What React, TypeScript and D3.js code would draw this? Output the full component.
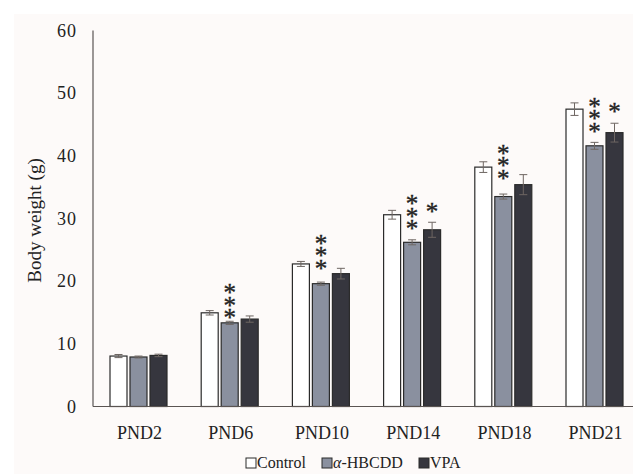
import React from "react";
import * as d3 from "d3";

const categories = ["PND2", "PND6", "PND10", "PND14", "PND18", "PND21"];
const seriesNames = ["Control", "α-HBCDD", "VPA"];
const controlMean = [8.05, 14.95, 22.75, 30.6, 38.2, 47.45];
const controlErr = [0.25, 0.35, 0.4, 0.7, 0.85, 1.0];
const hbcddMean = [7.9, 13.35, 19.6, 26.2, 33.5, 41.6];
const hbcddErr = [0.15, 0.25, 0.25, 0.4, 0.4, 0.55];
const vpaMean = [8.15, 13.95, 21.2, 28.2, 35.4, 43.7];
const vpaErr = [0.2, 0.5, 0.85, 1.2, 1.6, 1.5];
const hbcddSig = ["", "***", "***", "***", "***", "***"];
const vpaSig = ["", "", "", "*", "", "*"];
// level (g) of the lowest significance marker
const hbcddSigLevel = [0, 15.2, 23.1, 29.4, 37.5, 45.0];
const vpaSigLevel = [0, 0, 0, 31.5, 0, 47.5];
const yTicks = [0, 10, 20, 30, 40, 50, 60];

const fills = ["#ffffff", "#8a909f", "#36363e"];
const FONT = "'Liberation Serif', 'DejaVu Serif', serif";

export default function App() {
  const W = 633, H = 474;
  const x0 = 93, bandW = 91.2;
  const y = d3.scaleLinear().domain([0, 60]).range([406.5, 30.5]);
  const x = d3.scaleBand().domain(categories).range([x0, x0 + bandW * categories.length]).paddingInner(0).paddingOuter(0);
  const xs = d3.scaleBand().domain(seriesNames).range([17, 17 + 57]).paddingInner(3 / 20).paddingOuter(0);
  const means = [controlMean, hbcddMean, vpaMean];
  const errs = [controlErr, hbcddErr, vpaErr];
  const sigs = [null, hbcddSig, vpaSig];
  const sigLevels = [null, hbcddSigLevel, vpaSigLevel];
  const bw = xs.bandwidth();
  const fs = 25;
  const step = 10.5;

  return (
    <svg width={W} height={H} style={{ position: "absolute", left: 0, top: 0 }} fontFamily={FONT}>
      <rect x={0} y={0} width={W} height={H} fill="#ffffff" />
      <rect x={14} y={14} width={W - 14} height={H - 14} fill="#fdfaf9" />
      {/* y axis */}
      <line x1={x0} x2={x0} y1={y(60)} y2={y(0)} stroke="#5a5452" strokeWidth={1.2} />
      {yTicks.map((t) => (
        <text key={t} x={77} y={y(t)} textAnchor="end" dominantBaseline="central" fontSize={18} letterSpacing={1} fill="#222">
          {t}
        </text>
      ))}
      <text transform={`translate(34,${y(30) + 2}) rotate(-90)`} textAnchor="middle" dominantBaseline="central" fontSize={19} fill="#222">
        Body weight (g)
      </text>
      {/* bars */}
      {categories.map((c, i) => (
        <g key={c} transform={`translate(${x(c)},0)`}>
          {seriesNames.map((s, j) => {
            const bx = xs(s)!;
            const m = means[j][i];
            const e = errs[j][i];
            const cx = bx + bw / 2;
            const sig = sigs[j] ? sigs[j]![i] : "";
            const lvl = sigLevels[j] ? sigLevels[j]![i] : 0;
            const n = sig.length;
            return (
              <g key={s}>
                <rect x={bx} y={y(m)} width={bw} height={y(0) - y(m)} fill={fills[j]} stroke="#2b2b2b" strokeWidth={1.2} />
                <line x1={cx} x2={cx} y1={y(m + e)} y2={y(m - e)} stroke="#6e6662" strokeWidth={1} />
                <line x1={cx - 4} x2={cx + 4} y1={y(m + e)} y2={y(m + e)} stroke="#6e6662" strokeWidth={1} />
                <line x1={cx - 4} x2={cx + 4} y1={y(m - e)} y2={y(m - e)} stroke="#6e6662" strokeWidth={1} />
                {n > 0 && (
                  <text
                    x={cx}
                    y={y(lvl) - (n - 1) * step - 11}
                    fontSize={fs}
                    fill="#222"
                    stroke="#222"
                    strokeWidth={0.4}
                    style={{ writingMode: "vertical-rl", textOrientation: "upright", letterSpacing: `${step - fs}px` } as any}
                  >
                    {sig}
                  </text>
                )}
              </g>
            );
          })}
          <text x={bandW / 2 + 1} y={439} textAnchor="middle" fontSize={18} fill="#222">
            {c}
          </text>
        </g>
      ))}
      {/* x axis */}
      <line x1={x0} x2={W} y1={y(0)} y2={y(0)} stroke="#5a5452" strokeWidth={1.2} />
      {/* legend */}
      {[
        { n: seriesNames[0], sx: 246, tx: 257 },
        { n: seriesNames[1], sx: 322, tx: 333 },
        { n: seriesNames[2], sx: 419, tx: 430 },
      ].map((l, j) => (
        <g key={l.n}>
          <rect x={l.sx} y={458} width={10} height={10} fill={fills[j]} stroke="#2b2b2b" strokeWidth={1} />
          <text x={l.tx} y={468} fontSize={16} fill="#222">
            {j === 1 ? (
              <>
                <tspan fontStyle="italic">α</tspan>-HBCDD
              </>
            ) : (
              l.n
            )}
          </text>
        </g>
      ))}
    </svg>
  );
}
